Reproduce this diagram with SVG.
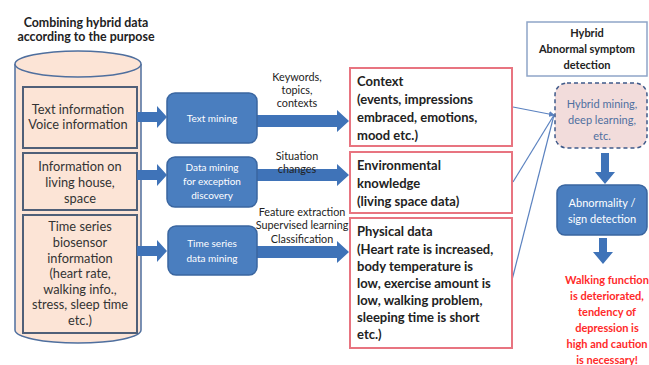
<svg xmlns="http://www.w3.org/2000/svg" width="649" height="365" viewBox="0 0 649 365">
<defs>
<style>
text{font-family:Lato,"Open Sans","Liberation Sans",sans-serif;}
.t{font-size:12.8px;fill:#333;text-anchor:middle;}
.tb{font-size:11px;font-weight:bold;fill:#222;text-anchor:middle;}
.ttl{font-size:12.4px;font-weight:bold;fill:#222;text-anchor:middle;}
.lbl{font-size:10.8px;fill:#222;text-anchor:middle;}
.w{font-size:10px;fill:#fff;text-anchor:middle;}
.bx{font-size:13px;font-weight:bold;fill:#222;}
.inner{fill:#fce4d6;stroke:#4f5f78;stroke-width:2;}
.blue{fill:#4a7ebf;stroke:#3a66a0;stroke-width:1.5;}
.rbox{fill:#fff;stroke:#e87480;stroke-width:2;}
.arr{fill:#3f73b8;}
.conn{stroke:#5b82c0;stroke-width:1.2;fill:none;}
.red{font-size:11px;font-weight:bold;fill:#ff2a2a;text-anchor:middle;}
</style>
<marker id="ah" markerWidth="6" markerHeight="6" refX="5" refY="3" orient="auto" markerUnits="userSpaceOnUse">
<path d="M0,0 L6,3 L0,6 Z" fill="#5b82c0"/>
</marker>
</defs>
<rect width="649" height="365" fill="#fff"/>

<g id="title">
<text class="ttl" x="86" y="27">Combining hybrid data</text>
<text class="ttl" x="86" y="41">according to the purpose</text>
</g>

<g id="cylinder">
<path d="M15,64 L15,330 A63,13 0 0 0 141,330 L141,64" fill="#fce4d6" stroke="#4f6f9e" stroke-width="1.5"/>
<ellipse cx="78" cy="64" rx="63" ry="13" fill="#fce4d6" stroke="#4f6f9e" stroke-width="1.5"/>
</g>

<g id="box-text-info">
<rect class="inner" x="23" y="87" width="114" height="61"/>
<text class="t" x="78" y="114">Text information</text>
<text class="t" x="78" y="129">Voice information</text>
</g>
<g id="box-living">
<rect class="inner" x="23" y="153" width="114" height="57"/>
<text class="t" x="80" y="171">Information on</text>
<text class="t" x="80" y="187">living house,</text>
<text class="t" x="80" y="203">space</text>
</g>
<g id="box-biosensor">
<rect class="inner" x="23" y="215" width="114" height="118"/>
<text class="t" x="80" y="231">Time series</text>
<text class="t" x="80" y="247">biosensor</text>
<text class="t" x="80" y="263">information</text>
<text class="t" x="80" y="278">(heart rate,</text>
<text class="t" x="80" y="294">walking info.,</text>
<text class="t" x="80" y="309">stress, sleep time</text>
<text class="t" x="80" y="325">etc.)</text>
</g>

<g id="connectors">
<path class="arr" d="M137,112 L157,112 L157,106 L167,117 L157,128 L157,122 L137,122 Z"/>
<path class="arr" d="M137,170 L157,170 L157,164 L167,175 L157,186 L157,180 L137,180 Z"/>
<path class="arr" d="M137,246 L157,246 L157,240 L167,251 L157,262 L157,256 L137,256 Z"/>
<path class="arr" d="M257,115 L337,115 L337,110 L349,121 L337,132 L337,127 L257,127 Z"/>
<path class="arr" d="M257,169 L337,169 L337,164 L349,175 L337,186 L337,181 L257,181 Z"/>
<path class="arr" d="M257,246 L337,246 L337,241 L349,252 L337,263 L337,258 L257,258 Z"/>
<path class="arr" d="M601,153 L609,153 L609,172 L615,172 L605,184 L595,172 L601,172 Z"/>
<path class="arr" d="M599,238 L607,238 L607,252 L613,252 L603,264 L593,252 L599,252 Z"/>
<line class="conn" x1="513" y1="107" x2="554" y2="115" marker-end="url(#ah)"/>
<line class="conn" x1="513" y1="182" x2="554" y2="115"/>
<line class="conn" x1="512" y1="280" x2="554" y2="115"/>
</g>

<g id="edge-labels">
<text class="lbl" x="297" y="81">Keywords,</text>
<text class="lbl" x="297" y="94">topics,</text>
<text class="lbl" x="297" y="107">contexts</text>
<text class="lbl" x="297" y="160">Situation</text>
<text class="lbl" x="297" y="173">changes</text>
<text class="lbl" x="302" y="216">Feature extraction</text>
<text class="lbl" x="302" y="229">Supervised learning</text>
<text class="lbl" x="302" y="243">Classification</text>
</g>

<g id="text-mining">
<rect class="blue" x="167" y="93" width="90" height="50" rx="8"/>
<text class="w" x="212" y="122">Text mining</text>
</g>
<g id="data-mining">
<rect class="blue" x="167" y="157" width="90" height="50" rx="8"/>
<text class="w" x="212" y="171">Data mining</text>
<text class="w" x="212" y="185">for exception</text>
<text class="w" x="212" y="199">discovery</text>
</g>
<g id="ts-mining">
<rect class="blue" x="168" y="226" width="89" height="49" rx="8"/>
<text class="w" x="212" y="247">Time series</text>
<text class="w" x="212" y="262">data mining</text>
</g>

<g id="context">
<rect class="rbox" x="350" y="68" width="162" height="78"/>
<text class="bx" x="357" y="86">Context</text>
<text class="bx" x="357" y="104">(events, impressions</text>
<text class="bx" x="357" y="122">embraced, emotions,</text>
<text class="bx" x="357" y="140">mood etc.)</text>
</g>
<g id="environment">
<rect class="rbox" x="350" y="152" width="162" height="61"/>
<text class="bx" x="357" y="170">Environmental</text>
<text class="bx" x="357" y="188">knowledge</text>
<text class="bx" x="357" y="206">(living space data)</text>
</g>
<g id="physical">
<rect class="rbox" x="350" y="218" width="162" height="130"/>
<text class="bx" x="357" y="236">Physical data</text>
<text class="bx" x="357" y="254">(Heart rate is increased,</text>
<text class="bx" x="357" y="271">body temperature is</text>
<text class="bx" x="357" y="288">low, exercise amount is</text>
<text class="bx" x="357" y="305">low, walking problem,</text>
<text class="bx" x="357" y="322">sleeping time is short</text>
<text class="bx" x="357" y="339">etc.)</text>
</g>

<g id="hybrid-title">
<rect x="527" y="22" width="120" height="54" fill="#fff" stroke="#8fa5c8" stroke-width="1.5"/>
<text class="tb" x="587" y="37">Hybrid</text>
<text class="tb" x="587" y="53">Abnormal symptom</text>
<text class="tb" x="587" y="69">detection</text>
</g>
<g id="hybrid-mining">
<rect x="555" y="83" width="92" height="65" rx="12" fill="#f2dcdb" stroke="#3f5a8a" stroke-width="1.5" stroke-dasharray="4,3"/>
<text x="602" y="108" style="font-size:11px;fill:#4f6fa0;text-anchor:middle">Hybrid mining,</text>
<text x="602" y="124" style="font-size:11px;fill:#4f6fa0;text-anchor:middle">deep learning,</text>
<text x="602" y="140" style="font-size:11px;fill:#4f6fa0;text-anchor:middle">etc.</text>
</g>
<g id="abnormality">
<rect class="blue" x="557" y="185" width="90" height="50" rx="8"/>
<text class="w" x="602" y="207" style="font-size:11px">Abnormality /</text>
<text class="w" x="602" y="223" style="font-size:11px">sign detection</text>
</g>
<g id="result">
<text class="red" x="607" y="284">Walking function</text>
<text class="red" x="607" y="300">is deteriorated,</text>
<text class="red" x="607" y="316">tendency of</text>
<text class="red" x="607" y="332">depression is</text>
<text class="red" x="607" y="348">high and caution</text>
<text class="red" x="607" y="364">is necessary!</text>
</g>
</svg>
